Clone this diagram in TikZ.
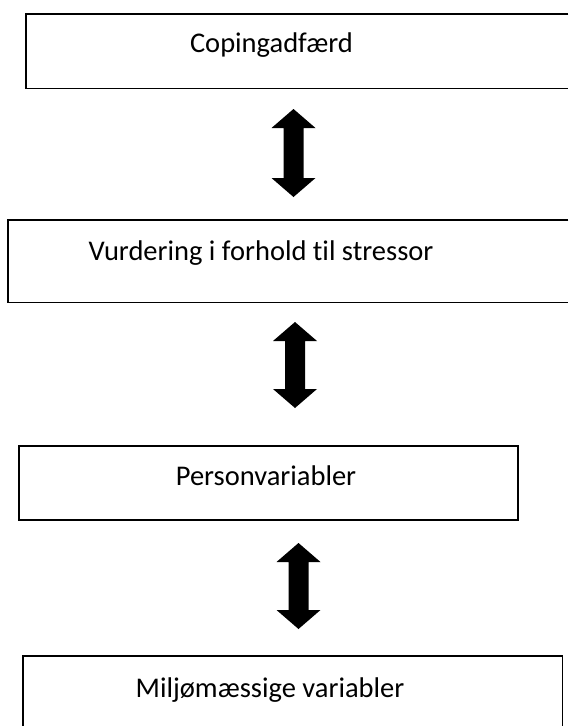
\documentclass[tikz,border=0pt]{standalone}
\usepackage{fontspec}
\setmainfont{Carlito}[Ligatures={NoCommon}]
\usetikzlibrary{calc}
\tikzset{
  box/.style={draw=black, line width=1.6pt, rectangle, inner sep=0pt, anchor=north west},
  openbox/.style={draw=none, rectangle, inner sep=0pt, anchor=north west},
  edge/.style={draw=black, line width=1.6pt, line cap=butt},
  lbl/.style={anchor=base, inner sep=0pt, font=\fontsize{28.5}{34}\selectfont},
  bigarrow/.style={fill=black}
}
\newcommand{\bigdarrow}[2]{%
  \fill[bigarrow] (#1) -- ($(#1)+(22,-19)$) -- ($(#1)+(10,-19)$) -- ($(#2)+(10,19)$) -- ($(#2)+(22,19)$) -- (#2)
   -- ($(#2)+(-22,19)$) -- ($(#2)+(-10,19)$) -- ($(#1)+(-10,-19)$) -- ($(#1)+(-22,-19)$) -- cycle;}
\begin{document}
\begin{tikzpicture}[x=1pt,y=1pt]
\useasboundingbox (0,0) rectangle (568,-726);
\fill[white] (0,0) rectangle (568,-726);
% boxes (first two run up to the right edge of the picture)
\node[openbox, minimum width=542pt, minimum height=74pt] (b1) at (26,-14) {};
\draw[edge] (b1.north east) -- (b1.north west) -- (b1.south west) -- (b1.south east);
\node[openbox, minimum width=560pt, minimum height=82pt] (b2) at (8,-220) {};
\draw[edge] (b2.north east) -- (b2.north west) -- (b2.south west) -- (b2.south east);
\node[box, minimum width=499pt, minimum height=74pt] (b3) at (18,-445) {};
\node[openbox, minimum width=539pt, minimum height=70pt] (b4) at (23,-656) {};
\draw[edge] (b4.south west) -- (b4.north west) -- (b4.north east) -- (b4.south east);
% labels
\node[lbl] (t1) at (271.5,-52) {Copingadfærd};
\node[lbl] (t2) at (261,-260) {Vurdering i forhold til stressor};
\node[lbl] (t3) at (266,-485) {Personvariabler};
\node[lbl] (t4) at (270,-697) {Miljømæssige variabler};
% arrows
\coordinate (a1t) at (293.5,-109);
\coordinate (a1b) at (293.5,-197);
\coordinate (a2t) at (295,-322);
\coordinate (a2b) at (295,-408);
\coordinate (a3t) at (298.5,-543);
\coordinate (a3b) at (298.5,-629);
\bigdarrow{a1t}{a1b}
\bigdarrow{a2t}{a2b}
\bigdarrow{a3t}{a3b}
\end{tikzpicture}
\end{document}
